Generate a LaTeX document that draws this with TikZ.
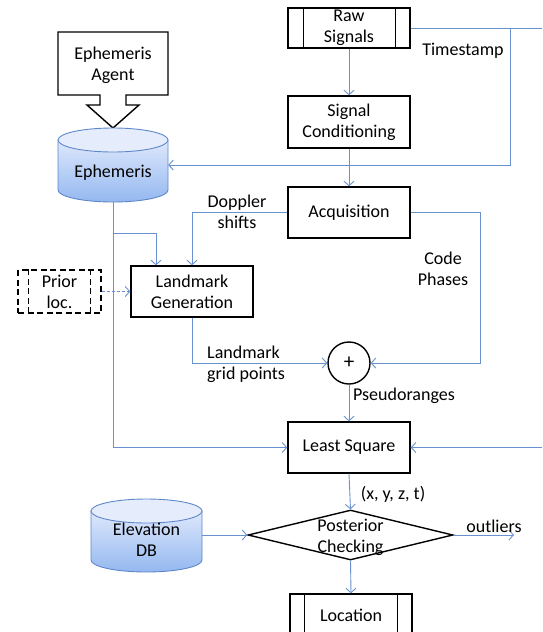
\documentclass[tikz,border=0pt]{standalone}
\usepackage{fontspec}
\setmainfont{Carlito}
\usetikzlibrary{arrows.meta,shapes.geometric}
\definecolor{lnblue}{RGB}{105,145,208}
\definecolor{cyltop}{RGB}{222,232,252}
\definecolor{cylbot}{RGB}{148,184,240}
\definecolor{cyledge}{RGB}{95,135,200}
\begin{document}
\begin{tikzpicture}[x=1pt,y=-1pt,font=\fontsize{18}{21}\selectfont,
  box/.style={draw=black,line width=1.4pt,align=center,inner sep=0,minimum width=122pt,minimum height=51pt},
  conn/.style={draw=lnblue,line width=0.9pt},
  arr/.style={conn,-{Straight Barb[length=4.5pt,width=10pt]}},
  lbl/.style={align=center,inner sep=0},
  cylz/.style={draw=cyledge,line width=0.9pt,top color=cyltop,bottom color=cylbot},
  cyltopsty/.style={draw=cyledge,line width=0.9pt,fill=cyltop!80!white},
  area/.style={inner sep=0,minimum width=110pt,minimum height=74pt}]
\clip (0,0) rectangle (542,632);
\useasboundingbox (0,0) rectangle (542,632);

% --- main column boxes
\node[box,minimum height=40pt] (raw) at (349,28) {Raw\\Signals};
\draw[line width=1.4pt] ([xshift=16pt]raw.north west) -- ([xshift=16pt]raw.south west)
  ([xshift=-15pt]raw.north east) -- ([xshift=-15pt]raw.south east);
\node[box,minimum height=52pt] (sc) at (349,122) {Signal\\Conditioning};
\node[box] (acq) at (349,212.5) {Acquisition};
\node[box] (lm) at (192,291.5) {Landmark\\Generation};
\node[draw,circle,line width=1.4pt,minimum size=42pt,inner sep=0] (plus) at (349,363) {\fontsize{21}{21}\selectfont +};
\node[box] (ls) at (349,447.5) {Least Square};
\node[draw,diamond,line width=1.4pt,inner sep=0,minimum width=205pt,minimum height=50pt] (pc) at (350.5,535) {};
\node[lbl] (pctxt) at (350.5,537) {Posterior\\Checking};
\node[box,minimum height=42pt] (loc) at (351,615) {Location};
\draw[line width=1.4pt] ([xshift=15pt]loc.north west) -- ([xshift=15pt]loc.south west)
  ([xshift=-15pt]loc.north east) -- ([xshift=-15pt]loc.south east);

% --- prior loc (dashed)
\node[box,dashed,dash pattern=on 6pt off 3.5pt,minimum width=83pt,minimum height=43pt] (prior) at (59.5,291.5) {Prior\\loc.};
\draw[line width=1.4pt,dash pattern=on 6pt off 3.5pt] ([xshift=11pt]prior.north west) -- ([xshift=11pt]prior.south west)
  ([xshift=-11pt]prior.north east) -- ([xshift=-11pt]prior.south east);

% --- Ephemeris agent callout
\draw[line width=1.4pt,fill=white] (58,32) -- (168,32) -- (168,95) -- (126,95) -- (126,105) -- (139,105)
  -- (113,128) -- (87,105) -- (100,105) -- (100,95) -- (58,95) -- cycle;
\node[lbl] (agent) at (113,65) {Ephemeris\\Agent};

% --- Ephemeris cylinder
\path[cylz] (58,140) -- (58,190) .. controls (58,196.6) and (82.6,202) .. (113,202)
  .. controls (143.4,202) and (168,196.6) .. (168,190) -- (168,140) -- cycle;
\path[cyltopsty] (113,140) ellipse [x radius=55,y radius=12];
\node[area] (eph) at (113,165) {};
\node[lbl] (ephtxt) at (113,173) {Ephemeris};

% --- Elevation DB cylinder
\path[cylz] (91,511) -- (91,560) .. controls (91,566.6) and (115.8,572) .. (146.5,572)
  .. controls (177.2,572) and (202,566.6) .. (202,560) -- (202,511) -- cycle;
\path[cyltopsty] (146.5,511) ellipse [x radius=55.5,y radius=12];
\node[area,minimum width=111pt] (elev) at (146.5,535) {};
\node[lbl] (elevtxt) at (146.5,540) {Elevation\\DB};

% --- coordinates
\coordinate (tsr) at (542,28);
\coordinate (tsj) at (510,28);
\coordinate (ephj) at (113,233);
\coordinate (cpx) at (480,363);
\coordinate (lsr) at (542,447.5);
\coordinate (outc) at (514,535);

% --- connectors
\draw[arr] (raw) -- (sc);
\draw[arr] (sc) -- (acq);
\draw[conn] (raw.east) -- (tsr);
\draw[arr] (tsj) |- (eph.east);
\draw[arr] (eph.south) |- (ls.west);
\draw[arr] (ephj) -| ([xshift=-36pt]lm.north);
\draw[arr] (acq.west) -| (lm.north);
\draw[arr] (acq.east) -| (cpx) -- (plus.east);
\draw[arr] (lm.south) |- (plus.west);
\draw[arr,dashed,dash pattern=on 3pt off 2pt] (prior.east) -- (lm.west);
\draw[arr] (plus.south) -- (ls.north);
\draw[arr] (lsr) -- (ls.east);
\draw[arr] (ls.south) -- (pc.north);
\draw[arr] (elev.east) -- (pc.west);
\draw[arr] (pc.east) -- (outc);
\draw[arr] (pc.south) -- (loc.north);

% --- labels
\node[lbl] (ts) at (463,51) {Timestamp};
\node[lbl] (dop) at (237,212) {Doppler\\shifts};
\node[lbl] (cp) at (443,269) {Code\\Phases};
\node[lbl,align=left,anchor=west] (grid) at (207,364) {Landmark\\grid points};
\node[lbl] (pr) at (404,396) {Pseudoranges};
\node[lbl] (xyz) at (393,494) {(x, y, z, t)};
\node[lbl] (outl) at (494,526) {outliers};
\end{tikzpicture}
\end{document}
